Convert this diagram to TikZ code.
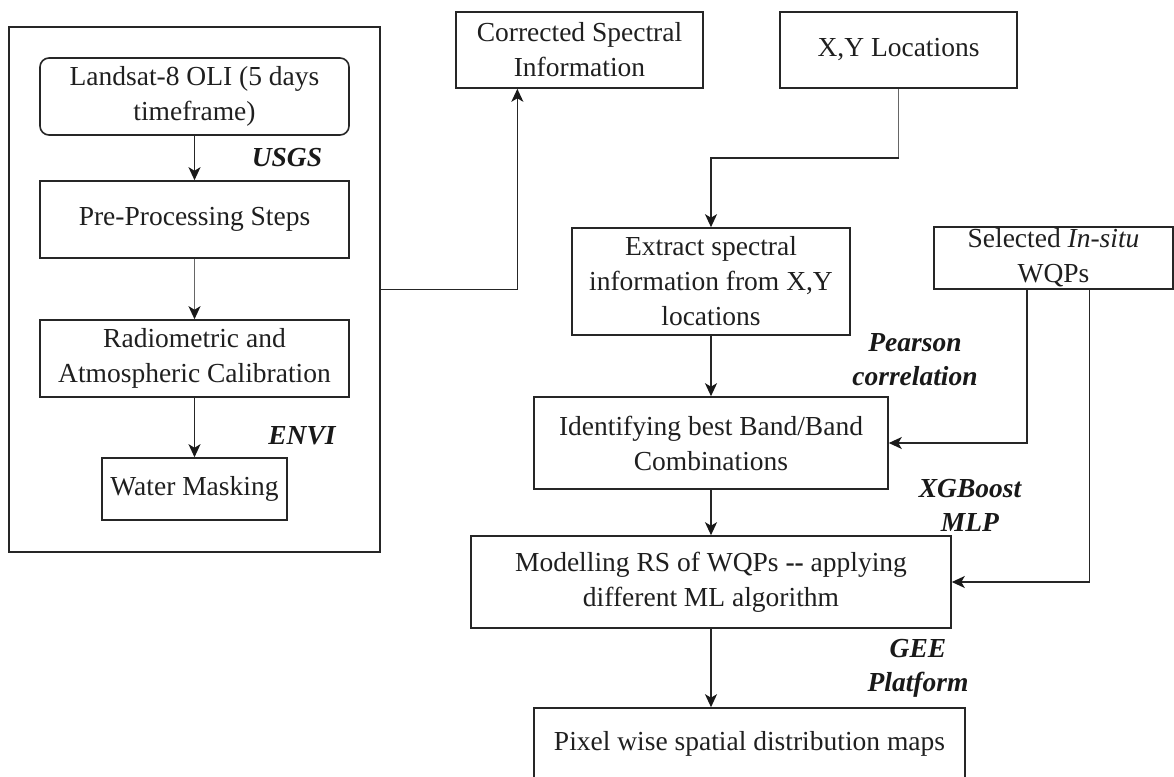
\documentclass[tikz,border=0pt]{standalone}
\usepackage{fontspec}
\setmainfont{Liberation Serif}
\usetikzlibrary{arrows.meta,calc}
\begin{document}
\begin{tikzpicture}[x=1pt,y=-1pt,
  box/.style={draw=black!85, line width=1.6pt, inner sep=0pt, align=center,
    font=\fontsize{27.5}{35}\selectfont, text=black!88},
  lbl/.style={inner sep=0pt, align=center, text=black!90,
    font=\fontsize{27.5}{34}\selectfont\bfseries\itshape},
  flow/.style={line width=1.5pt, draw=black!85,
    -{Stealth[length=13pt,width=12pt,inset=3.5pt,color=black!90]}},
  flowgray/.style={flow, draw=black!60},
  plain/.style={line width=1.5pt, draw=black!85}]
\useasboundingbox (0,0) rectangle (1174,776);

% image processing group
\node[box, minimum width=371pt, minimum height=525pt] (outer) at (194.5,289.5) {};
\node[box, rounded corners=9pt, minimum width=309pt, minimum height=77pt] (land) at (194.5,96.5)
  {Landsat-8 OLI (5 days\\timeframe)};
\node[box, minimum width=309pt, minimum height=77pt] (pre) at (194.5,219.5) {Pre-Processing Steps};
\node[box, minimum width=309pt, minimum height=77pt] (rad) at (194.5,358.5)
  {Radiometric and\\Atmospheric Calibration};
\node[box, minimum width=185pt, minimum height=62pt] (water) at (194.5,489) {Water Masking};

% right-hand flow
\node[box, minimum width=247pt, minimum height=76pt] (corr) at (579.5,50)
  {Corrected Spectral\\Information};
\node[box, minimum width=237pt, minimum height=76pt] (xy) at (898.5,50) {X,Y Locations};
\node[box, minimum width=278pt, minimum height=107pt] (ext) at (711,281.5)
  {Extract spectral\\information from X,Y\\locations};
\node[box, minimum width=239pt, minimum height=62pt] (sel) at (1053.5,258)
  {Selected \textit{In-situ}\\WQPs};
\node[box, minimum width=354pt, minimum height=92pt] (ident) at (711,443)
  {Identifying best Band/Band\\Combinations};
\node[box, minimum width=480pt, minimum height=92pt] (model) at (711,582)
  {Modelling RS of WQPs \textbf{-{}-} applying\\different ML algorithm};
\node[box, minimum width=431pt, minimum height=71pt] (pix) at (749.5,743.5)
  {Pixel wise spatial distribution maps};

% tool labels
\node[lbl] (usgs) at (287,158) {USGS};
\node[lbl] (envi) at (302,436) {ENVI};
\node[lbl] (pear) at (915,360) {Pearson\\correlation};
\node[lbl] (xgb) at (970,505) {XGBoost\\MLP};
\node[lbl] (gee) at (918,668) {GEE\\Platform};

% connectors
\draw[flow] (land) -- (pre);
\draw[flowgray] (pre) -- (rad);
\draw[flow] (rad) -- (water);

\coordinate (cin) at ($(corr.south west)!0.25!(corr.south east)$);
\draw[flow] (outer.east) -| (cin);

\coordinate (xybend) at (898.5,158);
\draw[plain, draw=black!60] (xy.south) -- (xybend);
\draw[flow] (xybend) -| (ext.north);

\draw[flow] (ext) -- (ident);
\draw[flow] (ident) -- (model);
\draw[flow] (model.south) -- (model.south |- pix.north);

\coordinate (s1) at ($(sel.south west)!0.389!(sel.south east)$);
\coordinate (s2) at ($(sel.south west)!0.649!(sel.south east)$);
\draw[flow] (s1) |- (ident.east);
\draw[flow] (s2) |- (model.east);
\end{tikzpicture}
\end{document}
